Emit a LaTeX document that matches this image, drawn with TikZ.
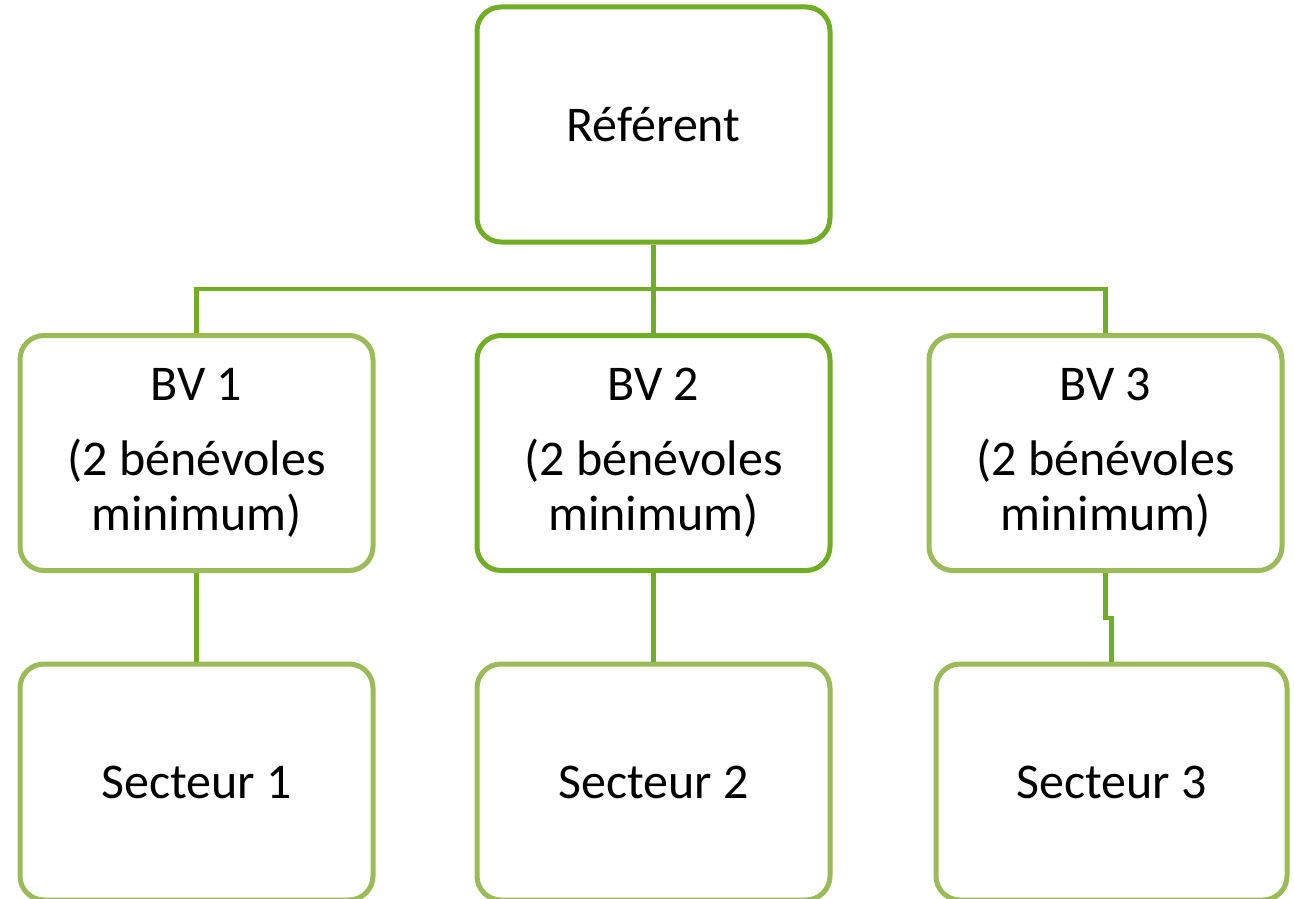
\documentclass[tikz,border=0pt]{standalone}
\usepackage{fontspec}
\setmainfont{Carlito}
\definecolor{dgreen}{HTML}{72AE25}
\definecolor{lgreen}{HTML}{9BBB59}
\begin{document}
\begin{tikzpicture}[x=1pt,y=1pt,
  box/.style={draw=#1,line width=5pt,rounded corners=24pt,minimum width=353pt,minimum height=235pt,inner sep=0pt,align=center,font=\fontsize{50}{55}\selectfont},
  link/.style={draw=dgreen,line width=4.5pt}]
\useasboundingbox (0,0) rectangle (1294,-899);
\node[box=dgreen] (ref) at (653.5,-124.5) {Référent};
\node[box=lgreen] (bv1) at (196.5,-453) {BV 1\\[20pt](2 bénévoles\\minimum)};
\node[box=dgreen] (bv2) at (653.5,-453) {BV 2\\[20pt](2 bénévoles\\minimum)};
\node[box=lgreen] (bv3) at (1105.5,-453) {BV 3\\[20pt](2 bénévoles\\minimum)};
\node[box=lgreen,minimum height=236pt] (s1) at (196.5,-782) {Secteur 1};
\node[box=lgreen,minimum height=236pt] (s2) at (653.5,-782) {Secteur 2};
\node[box=lgreen,minimum height=236pt,minimum width=351pt] (s3) at (1111.5,-782) {Secteur 3};
\coordinate (j) at (653.5,-289);
\coordinate (k) at (1105.5,-618);
\draw[link] (ref.south) -- (j);
\draw[link] (j) -| (bv1.north);
\draw[link] (j) -| (bv3.north);
\draw[link] (j) -- (bv2.north);
\draw[link] (bv1.south) -- (s1.north);
\draw[link] (bv2.south) -- (s2.north);
\draw[link] (bv3.south) -- (k) -| (s3.north);
\end{tikzpicture}
\end{document}
